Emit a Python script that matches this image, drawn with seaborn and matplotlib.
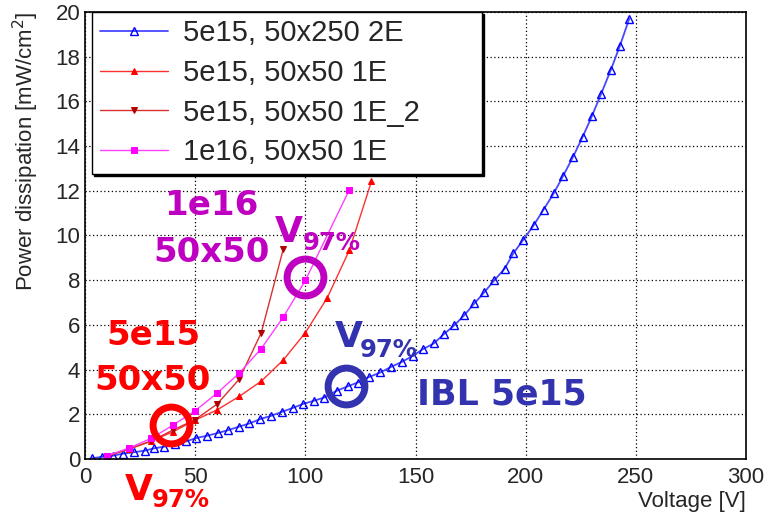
import seaborn as sns
import matplotlib.pyplot as plt
import numpy as np
from matplotlib.ticker import MultipleLocator

# 5e15, 50x250 2E (IBL)
blue_v = [3.2, 7.8, 12.6, 17.3, 22.1, 27.0, 31.5, 36.0, 41.0, 46.0, 50.5, 55.4, 60.2, 64.9,
          69.7, 74.6, 79.6, 84.4, 89.4, 94.2, 98.9, 103.7, 108.6, 114.2, 119.2, 123.7, 129.0,
          134.0, 138.9, 143.7, 148.7, 153.3, 158.3, 162.8, 167.6, 172.2, 176.7, 181.3, 185.8,
          190.4, 194.4, 199.0, 203.6, 208.1, 212.7, 216.9, 221.4, 225.8, 230.0, 234.2, 238.6,
          242.8, 247.0]
blue_p = [0.03, 0.10, 0.15, 0.24, 0.30, 0.37, 0.48, 0.55, 0.67, 0.79, 0.94, 1.04, 1.16, 1.29,
          1.44, 1.59, 1.79, 1.93, 2.11, 2.28, 2.46, 2.60, 2.75, 3.05, 3.25, 3.42, 3.67,
          3.87, 4.12, 4.34, 4.61, 4.91, 5.17, 5.58, 5.98, 6.44, 6.96, 7.47, 8.00,
          8.51, 9.20, 9.82, 10.45, 11.16, 11.88, 12.65, 13.50, 14.40, 15.33, 16.33, 17.40,
          18.50, 19.70]

# 5e15, 50x50 1E
red_v = [10, 20, 30, 40, 50, 60, 70, 80, 90, 100, 110, 120, 130]
red_p = [0.13, 0.45, 0.80, 1.22, 1.74, 2.20, 2.80, 3.48, 4.43, 5.65, 7.22, 9.35, 12.42]

# 5e15, 50x50 1E_2
red2_v = [10, 20, 30, 40, 50, 60, 70, 80, 90]
red2_p = [0.13, 0.44, 0.80, 1.30, 1.76, 2.46, 3.57, 5.65, 9.40]

# 1e16, 50x50 1E
mag_v = [10, 20, 30, 40, 50, 60, 70, 80, 90, 100, 120]
mag_p = [0.15, 0.49, 0.92, 1.52, 2.16, 2.95, 3.84, 4.94, 6.35, 7.99, 12.05]

labels = ['5e15, 50x250 2E', '5e15, 50x50 1E', '5e15, 50x50 1E_2', '1e16, 50x50 1E']

# V97% working points (circled)
v97_v = [38.9, 100.0, 118.5]
v97_p = [1.52, 8.16, 3.27]

RED = '#ff0000'
MAG = '#c000c0'
NAVY = '#3333b0'

sns.set_style('white')
plt.rcParams['font.family'] = ['Liberation Sans', 'DejaVu Sans']

fig = plt.figure(figsize=(7.68, 5.13), dpi=100)
ax = fig.add_axes([0.1107, 0.1053, 0.8607, 0.8713])

sns.lineplot(x=blue_v, y=blue_p, ax=ax, color='#4848ff', lw=1.3, marker='^', ms=6,
             mfc='none', mec='#0000ff', mew=1.0, label=labels[0], sort=False)
sns.lineplot(x=red_v, y=red_p, ax=ax, color='#ff3030', lw=1.0, marker='^', ms=5,
             mfc='#ff0000', mec='#ff0000', label=labels[1], sort=False)
sns.lineplot(x=red2_v, y=red2_p, ax=ax, color='#d83030', lw=1.0, marker='v', ms=5,
             mfc='#b00000', mec='#b00000', label=labels[2], sort=False)
sns.lineplot(x=mag_v, y=mag_p, ax=ax, color='#ff40ff', lw=1.0, marker='s', ms=5,
             mfc='#ff00ff', mec='#ff00ff', label=labels[3], sort=False)

# circles marking V97%
for v, p, c in zip(v97_v, v97_p, [RED, MAG, NAVY]):
    ax.plot([v], [p], marker='o', ms=26.5, mfc='none', mec=c, mew=5, zorder=5,
            clip_on=False)

ax.set_xlim(0, 300)
ax.set_ylim(0, 20)
ax.xaxis.set_major_locator(MultipleLocator(50))
ax.xaxis.set_minor_locator(MultipleLocator(10))
ax.yaxis.set_major_locator(MultipleLocator(2))
ax.yaxis.set_minor_locator(MultipleLocator(0.5))
ax.tick_params(which='both', direction='in', top=False, right=False, labelsize=16,
               color='black', width=1)
ax.tick_params(which='major', length=9)
ax.tick_params(which='minor', length=4.5)
ax.tick_params(axis='x', pad=6)
ax.grid(True, which='major', color='black', linestyle=(0, (1, 2)), linewidth=0.9)
for s in ax.spines.values():
    s.set_color('black')
    s.set_linewidth(1.2)

ax.set_xlabel('Voltage [V]', fontsize=16, loc='right', labelpad=2)
ax.set_ylabel('Power dissipation [mW/cm$^2$]', fontsize=16, loc='top', labelpad=10)

leg = ax.legend(loc='upper left', bbox_to_anchor=(0.011, 0.649, 0.59, 0.351),
                mode='expand', borderaxespad=0, fontsize=21, numpoints=1,
                handlelength=2.35, handletextpad=0.5, labelspacing=0.4,
                borderpad=0.25, fancybox=False, framealpha=1,
                shadow={'color': 'black', 'alpha': 1.0, 'ox': 1.5, 'oy': -1.5})
leg.get_frame().set_edgecolor('black')
leg.get_frame().set_linewidth(1.0)

# annotations
big = dict(fontweight='bold', family='DejaVu Sans', clip_on=False, zorder=6)
ax.text(57.4, 10.92, '1e16', color=MAG, fontsize=24.5, ha='center', **big)
ax.text(57.4, 8.81, '50x50', color=MAG, fontsize=24.5, ha='center', **big)
ax.text(86.2, 9.71, 'V', color=MAG, fontsize=26, ha='left', **big)
ax.text(99.0, 9.35, '97%', color=MAG, fontsize=17.5, ha='left', **big)

ax.text(30.9, 5.10, '5e15', color=RED, fontsize=24.5, ha='center', **big)
ax.text(30.6, 3.09, '50x50', color=RED, fontsize=24.5, ha='center', **big)
ax.text(18.2, -1.83, 'V', color=RED, fontsize=26, ha='left', **big)
ax.text(30.4, -2.15, '97%', color=RED, fontsize=17.5, ha='left', **big)

ax.text(113.5, 5.01, 'V', color=NAVY, fontsize=26, ha='left', **big)
ax.text(124.8, 4.56, '97%', color=NAVY, fontsize=17.5, ha='left', **big)
ax.text(150.6, 2.42, 'IBL 5e15', color=NAVY, fontsize=25, ha='left', **big)

fig.savefig('out.png', dpi=100)
